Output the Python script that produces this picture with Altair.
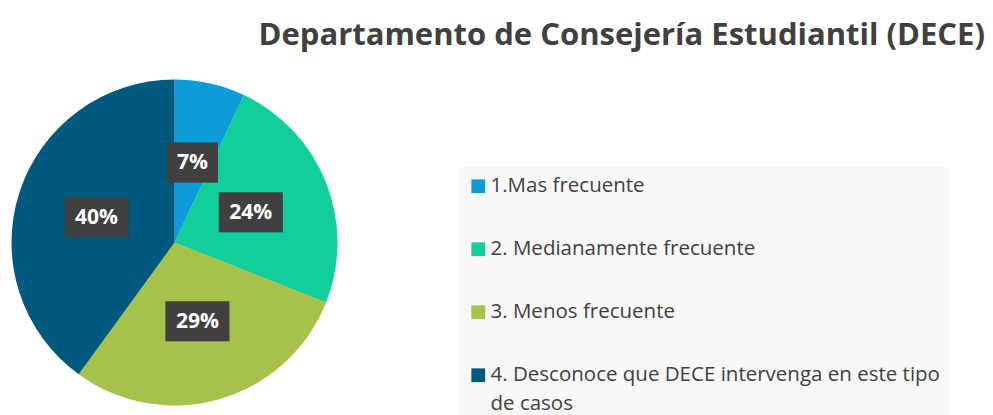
import math
import altair as alt
import pandas as pd

# ---- data ----
categories = [
    "1.Mas frecuente",
    "2. Medianamente frecuente",
    "3. Menos frecuente",
    "4. Desconoce que DECE intervenga en este tipo de casos",
]
values = [7, 24, 29, 40]
labels = ["7%", "24%", "29%", "40%"]
colors = ["#0B9CD9", "#12CE9A", "#A6C24B", "#015A7E"]
title_text = "Departamento de Consejería Estudiantil (DECE)"

df = pd.DataFrame({
    "idx": list(range(len(categories))),
    "cat": categories,
    "value": values,
    "label": labels,
})

# ---- layout constants (view pixels) ----
CX, CY, R = 166.5, 234.5, 163
RL = 82
FONT = "Open Sans"

base = alt.Chart(df)

# soft shadow around the pie
halo_layers = []
for k in range(1, 9):
    rr = R + 2.5 * k
    halo_layers.append(
        alt.Chart(alt.Data(values=[{"k": 1}]))
        .mark_circle(size=math.pi * rr * rr, color="black", opacity=0.02)
        .encode(x=alt.value(CX), y=alt.value(CY))
    )

last_label = categories[3]
label_expr = (
    f"datum.label == '{last_label}' ? "
    "['4. Desconoce que DECE intervenga en este tipo', 'de casos'] : datum.label"
)

pie = base.mark_arc(outerRadius=R).encode(
    theta=alt.Theta("value:Q", stack=True),
    order=alt.Order("idx:O"),
    color=alt.Color(
        "cat:N",
        sort=categories,
        scale=alt.Scale(domain=categories, range=colors),
        legend=alt.Legend(
            title=None,
            orient="none",
            legendX=451,
            legendY=159,
            fillColor="#F8F8F8",
            padding=9,
            symbolType="square",
            symbolSize=190,
            symbolStrokeWidth=0,
            symbolOpacity=1,
            labelFont=FONT,
            labelFontSize=20.5,
            labelColor="#404040",
            labelLimit=700,
            labelOffset=2,
            rowPadding=42,
            labelExpr=label_expr,
        ),
    ),
    x=alt.value(CX),
    y=alt.value(CY),
)

pos = (
    base.transform_window(cum="sum(value)", sort=[alt.SortField("idx")])
    .transform_joinaggregate(total="sum(value)")
    .transform_calculate(
        mid="(datum.cum - datum.value / 2) / datum.total * 2 * PI",
        px=f"{CX} + {RL} * sin(datum.mid)",
        py=f"{CY} - {RL} * cos(datum.mid)",
        hw="6.5 * length(datum.label) + 12.5",
    )
    .transform_calculate(
        x0="datum.px - datum.hw",
        x1="datum.px + datum.hw",
        y0="datum.py - 20",
        y1="datum.py + 20",
    )
)

rect_enc = dict(
    x=alt.X("x0:Q", scale=None, axis=None),
    x2="x1:Q",
    y=alt.Y("y0:Q", scale=None, axis=None),
    y2="y1:Q",
)

box_shadow = pos.mark_rect(color="black", opacity=0.3, xOffset=3, yOffset=3).encode(**rect_enc)
boxes = pos.mark_rect(color="#404040").encode(**rect_enc)

texts = pos.mark_text(
    font=FONT, fontSize=21, fontWeight="bold", color="white",
    align="center", baseline="middle", dy=1,
).encode(
    x=alt.X("px:Q", scale=None, axis=None),
    y=alt.Y("py:Q", scale=None, axis=None),
    text="label:N",
)

title = (
    alt.Chart(alt.Data(values=[{"t": title_text}]))
    .mark_text(font=FONT, fontSize=31, fontWeight="bold", color="#404040",
               align="right", baseline="alphabetic")
    .encode(x=alt.value(977), y=alt.value(37), text="t:N")
)

chart = (
    alt.layer(*halo_layers, pie, box_shadow, boxes, texts, title)
    .properties(width=977, height=410, autosize=alt.AutoSizeParams(type="none"), padding=0)
    .configure(
        style={"guide-label": {"lineHeight": 29}},
        view=alt.ViewConfig(stroke=None),
    )
)

chart.save("out.html", embed_options={"renderer": "svg", "actions": False})
